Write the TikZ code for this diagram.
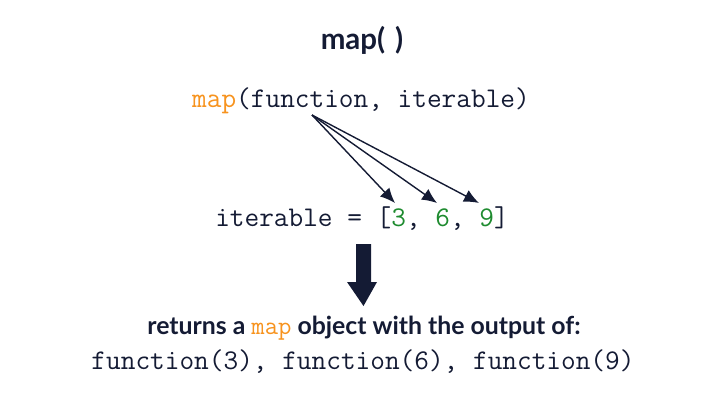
\documentclass[tikz,border=0pt]{standalone}
\usepackage{fontspec}
\setmainfont{Lato}
\usetikzlibrary{arrows.meta}
\definecolor{navy}{HTML}{141B34}
\definecolor{maporange}{HTML}{F7931E}
\definecolor{numgreen}{HTML}{1E8B2F}
\tikzstyle{title}=[font=\fontsize{29.5}{34}\selectfont\bfseries, text=navy]
\tikzstyle{code}=[font=\fontsize{28.5}{32}\ttfamily, text=navy]
\tikzstyle{caption}=[font=\fontsize{24.8}{28}\selectfont\bfseries, text=navy]
\tikzstyle{edge}=[draw=navy, line width=1.4pt, -{Latex[length=15pt,width=13pt]}]
\tikzstyle{bigarrow}=[fill=navy, draw=none]

\begin{document}
\begin{tikzpicture}[x=1pt,y=-1pt]
			\useasboundingbox (0,0) rectangle (724,404);
			% First we place the texts
			\node[title] (head) at (362,40) {map(\,\,)};
			\node[code] (call) at (361,101) {\textcolor{maporange}{map}(function, iterable)};
			\node[code] (iter) at (362,219) {iterable = [\textcolor{numgreen}{3}, \textcolor{numgreen}{6}, \textcolor{numgreen}{9}]};
			\node[caption] (ret) at (364,328) {returns a \textcolor{maporange}{\fontsize{26}{28}\ttfamily\mdseries map} object with the output of:};
			\node[code] (out) at (363,362) {function(3), function(6), function(9)};

			% Then the arrows from function to each element
			\coordinate (fn) at (312,115);
			\foreach \name/\pos in {three/395, six/437, nine/479}
			\coordinate (\name) at (\pos,203);
			\foreach \dest in {three, six, nine}
			\path[edge] (fn) -- (\dest);

			% Big arrow down to the result
			\path[bigarrow] (356,244) -- (371,244) -- (371,282) -- (377,282) -- (363.5,306)
				-- (347,282) -- (356,282) -- cycle;
		\end{tikzpicture}
\end{document}
